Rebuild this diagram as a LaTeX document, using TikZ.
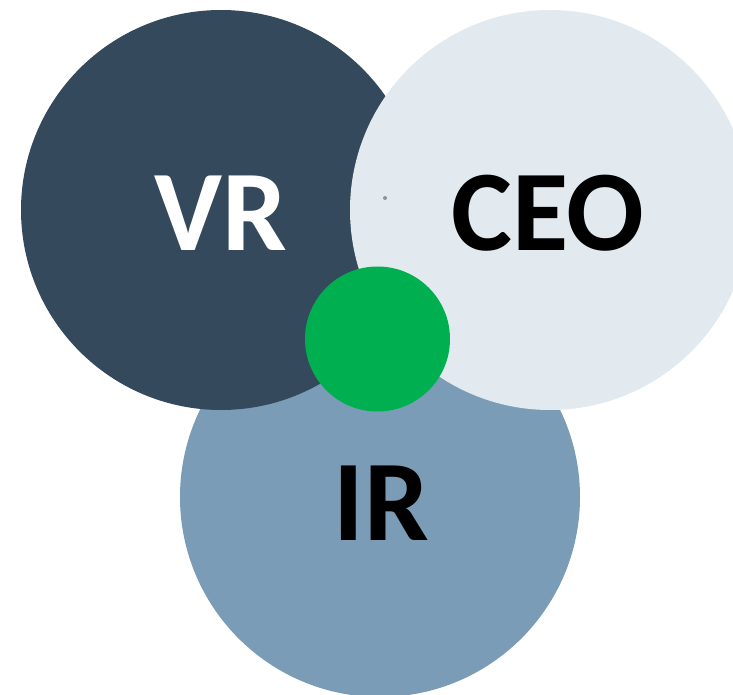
\documentclass[tikz,border=0pt]{standalone}
\usepackage{fontspec}
\setmainfont{Carlito}
\definecolor{vrcol}{HTML}{344A5C}
\definecolor{ceocol}{HTML}{E2EAEF}
\definecolor{ircol}{HTML}{7A9CB6}
\definecolor{grn}{HTML}{00B050}
\definecolor{dotcol}{HTML}{8A9499}
\begin{document}
\begin{tikzpicture}[x=1pt,y=-1pt,
  bubble/.style={circle,minimum size=400pt,inner sep=0pt,draw=none},
  lbl/.style={font=\fontsize{115}{115}\selectfont\bfseries,inner sep=0pt,anchor=base}]
\useasboundingbox (0,0) rectangle (733,695);
\clip (0,0) rectangle (733,695);
\fill[white] (0,0) rectangle (733,695);
\node[bubble,fill=ircol] (ir) at (380,497) {};
\node[bubble,fill=vrcol] (vr) at (221,210) {};
\node[bubble,fill=ceocol] (ceo) at (550,210) {};
\node[circle,minimum size=145pt,inner sep=0pt,fill=grn] (core) at (377.5,339) {};
\node[circle,minimum size=4pt,inner sep=0pt,fill=dotcol] (dot) at (385,198) {};
\node[lbl,text=white] (vrt) at (221,250) {VR};
\node[lbl,text=black] (ceot) at (548,250) {CEO};
\node[lbl,text=black] (irt) at (381,540) {IR};
\end{tikzpicture}
\end{document}
